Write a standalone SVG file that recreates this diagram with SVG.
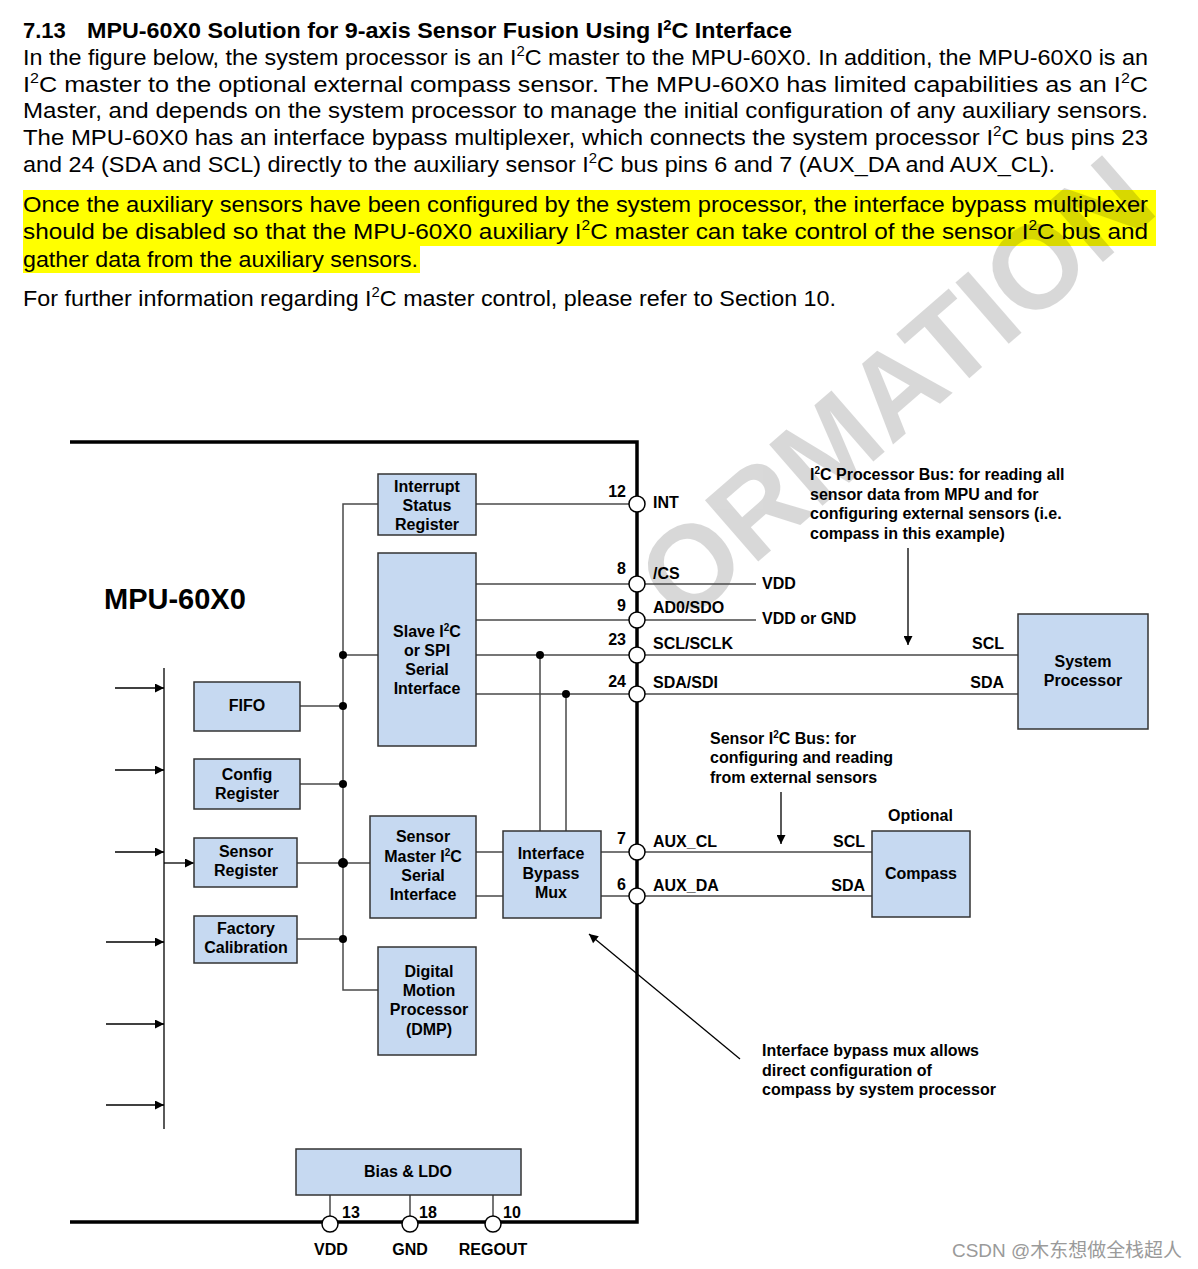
<svg xmlns="http://www.w3.org/2000/svg" width="1198" height="1269" viewBox="0 0 1198 1269">
<defs>
<style>
.body{font-family:"Liberation Sans",Arial,sans-serif;font-size:22px;fill:#000}
.title{font-family:"Liberation Sans",Arial,sans-serif;font-size:22px;font-weight:bold;fill:#000}
.lbl{font-family:"Liberation Sans",Arial,sans-serif;font-size:16px;font-weight:bold;fill:#000}
.big{font-family:"Liberation Sans",Arial,sans-serif;font-size:29px;font-weight:bold;fill:#000}
.c{text-anchor:middle}
.e{text-anchor:end}
.box{fill:#c6d9f1;stroke:#333;stroke-width:1.5}
.wire{stroke:#4a4a4a;stroke-width:1.5;fill:none}
.thin{stroke:#000;stroke-width:1.3;fill:none}
.pin{fill:#fff;stroke:#000;stroke-width:1.5}
.dot{fill:#000}
.border{stroke:#000;stroke-width:3.5;fill:none}
.wm{font-family:"Liberation Sans",Arial,sans-serif;font-size:118px;font-weight:bold;fill:#000}
.csdn{font-family:"Liberation Sans","Noto Sans CJK SC",sans-serif;font-size:19px;fill:#9a9a9a}
</style>
<marker id="ah" viewBox="0 0 10 10" refX="10" refY="5" markerWidth="11" markerHeight="9" markerUnits="userSpaceOnUse" orient="auto">
<path d="M0,0 L10,5 L0,10 z" fill="#000"/>
</marker>
<clipPath id="wmclip">
<path clip-rule="evenodd" d="M0,0 H1198 V1269 H0 Z M0,441 H637 V1222 H0 Z"/>
</clipPath>
</defs>
<rect width="1198" height="1269" fill="#fff"/>

<g id="highlight">
<rect x="23" y="190" width="1133" height="56" fill="#ffff00"/>
<rect x="23" y="246" width="397" height="27" fill="#ffff00"/>
</g>

<g id="watermark" clip-path="url(#wmclip)" opacity="0.15">
<text class="wm" transform="translate(683,627) rotate(-41)">ORMATION</text>
</g>

<g id="header-text">
<text class="title" x="23" y="38">7.13</text>
<text class="title" x="87" y="38" textLength="705" lengthAdjust="spacingAndGlyphs">MPU-60X0 Solution for 9-axis Sensor Fusion Using I<tspan dy="-8" font-size="14">2</tspan><tspan dy="8">C Interface</tspan></text>
<text class="body" x="23" y="65" textLength="1125" lengthAdjust="spacingAndGlyphs">In the figure below, the system processor is an I<tspan dy="-9" font-size="14">2</tspan><tspan dy="9">C master to the MPU-60X0. In addition, the MPU-60X0 is an</tspan></text>
<text class="body" x="23" y="92" textLength="1125" lengthAdjust="spacingAndGlyphs">I<tspan dy="-9" font-size="14">2</tspan><tspan dy="9">C master to the optional external compass sensor. The MPU-60X0 has limited capabilities as an I</tspan><tspan dy="-9" font-size="14">2</tspan><tspan dy="9">C</tspan></text>
<text class="body" x="23" y="118" textLength="1125" lengthAdjust="spacingAndGlyphs">Master, and depends on the system processor to manage the initial configuration of any auxiliary sensors.</text>
<text class="body" x="23" y="145" textLength="1125" lengthAdjust="spacingAndGlyphs">The MPU-60X0 has an interface bypass multiplexer, which connects the system processor I<tspan dy="-9" font-size="14">2</tspan><tspan dy="9">C bus pins 23</tspan></text>
<text class="body" x="23" y="172" textLength="1032" lengthAdjust="spacingAndGlyphs">and 24 (SDA and SCL) directly to the auxiliary sensor I<tspan dy="-9" font-size="14">2</tspan><tspan dy="9">C bus pins 6 and 7 (AUX_DA and AUX_CL).</tspan></text>
<text class="body" x="23" y="212" textLength="1125" lengthAdjust="spacingAndGlyphs">Once the auxiliary sensors have been configured by the system processor, the interface bypass multiplexer</text>
<text class="body" x="23" y="239" textLength="1125" lengthAdjust="spacingAndGlyphs">should be disabled so that the MPU-60X0 auxiliary I<tspan dy="-9" font-size="14">2</tspan><tspan dy="9">C master can take control of the sensor I</tspan><tspan dy="-9" font-size="14">2</tspan><tspan dy="9">C bus and</tspan></text>
<text class="body" x="23" y="267" textLength="395" lengthAdjust="spacingAndGlyphs">gather data from the auxiliary sensors.</text>
<text class="body" x="23" y="306" textLength="813" lengthAdjust="spacingAndGlyphs">For further information regarding I<tspan dy="-9" font-size="14">2</tspan><tspan dy="9">C master control, please refer to Section 10.</tspan></text>
</g>

<g id="connectors">
<path class="border" d="M70,442 H637 V1222 H70"/>
<path class="wire" d="M378,504 H343 V990 H378"/>
<path class="wire" d="M476,504 H629"/>
<path class="wire" d="M343,655 H378"/>
<path class="wire" d="M476,584 H629 M476,620 H629 M476,655 H629 M476,694 H629"/>
<path class="wire" d="M645,584 H756 M645,620 H756"/>
<path class="wire" d="M645,655 H1018 M645,694 H1018"/>
<path class="wire" d="M300,706 H343 M300,784 H343 M297,863 H370 M297,939 H343"/>
<path class="wire" d="M540,655 V831 M566,694 V831"/>
<path class="wire" d="M476,852 H503 M476,896 H503"/>
<path class="wire" d="M601,852 H629 M601,896 H629"/>
<path class="wire" d="M645,852 H872 M645,896 H872"/>
<path class="thin" d="M164,668 V1129"/>
<path class="thin" marker-end="url(#ah)" d="M115,688 H164"/>
<path class="thin" marker-end="url(#ah)" d="M115,770 H164"/>
<path class="thin" marker-end="url(#ah)" d="M115,852 H164"/>
<path class="thin" marker-end="url(#ah)" d="M106,942 H164"/>
<path class="thin" marker-end="url(#ah)" d="M106,1024 H164"/>
<path class="thin" marker-end="url(#ah)" d="M106,1105 H164"/>
<path class="thin" marker-end="url(#ah)" d="M164,863 H194"/>
<path class="wire" d="M330,1195 V1216 M410,1195 V1216 M493,1195 V1216"/>
<path class="thin" marker-end="url(#ah)" d="M908,548 V645"/>
<path class="thin" marker-end="url(#ah)" d="M781,792 V844"/>
<path class="thin" marker-end="url(#ah)" d="M740,1059 L589,934"/>
<circle class="dot" cx="343" cy="655" r="4"/>
<circle class="dot" cx="343" cy="706" r="4"/>
<circle class="dot" cx="343" cy="784" r="4"/>
<circle class="dot" cx="343" cy="863" r="5"/>
<circle class="dot" cx="343" cy="939" r="4"/>
<circle class="dot" cx="540" cy="655" r="4"/>
<circle class="dot" cx="566" cy="694" r="4"/>
</g>

<g id="pins">
<circle class="pin" cx="637" cy="504" r="8"/>
<circle class="pin" cx="637" cy="584" r="8"/>
<circle class="pin" cx="637" cy="620" r="8"/>
<circle class="pin" cx="637" cy="655" r="8"/>
<circle class="pin" cx="637" cy="694" r="8"/>
<circle class="pin" cx="637" cy="852" r="8"/>
<circle class="pin" cx="637" cy="896" r="8"/>
<circle class="pin" cx="330" cy="1224" r="8"/>
<circle class="pin" cx="410" cy="1224" r="8"/>
<circle class="pin" cx="493" cy="1224" r="8"/>
<text class="lbl e" x="626" y="497">12</text>
<text class="lbl e" x="626" y="574">8</text>
<text class="lbl e" x="626" y="611">9</text>
<text class="lbl e" x="626" y="645">23</text>
<text class="lbl e" x="626" y="687">24</text>
<text class="lbl e" x="626" y="844">7</text>
<text class="lbl e" x="626" y="890">6</text>
<text class="lbl" x="653" y="508">INT</text>
<text class="lbl" x="653" y="579">/CS</text>
<text class="lbl" x="653" y="613">AD0/SDO</text>
<text class="lbl" x="653" y="649">SCL/SCLK</text>
<text class="lbl" x="653" y="688">SDA/SDI</text>
<text class="lbl" x="653" y="847">AUX_CL</text>
<text class="lbl" x="653" y="891">AUX_DA</text>
<text class="lbl" x="762" y="589">VDD</text>
<text class="lbl" x="762" y="624">VDD or GND</text>
<text class="lbl e" x="1004" y="649">SCL</text>
<text class="lbl e" x="1004" y="688">SDA</text>
<text class="lbl e" x="865" y="847">SCL</text>
<text class="lbl e" x="865" y="891">SDA</text>
<text class="lbl" x="342" y="1218">13</text>
<text class="lbl" x="419" y="1218">18</text>
<text class="lbl" x="503" y="1218">10</text>
<text class="lbl c" x="331" y="1255">VDD</text>
<text class="lbl c" x="410" y="1255">GND</text>
<text class="lbl c" x="493" y="1255">REGOUT</text>
</g>

<g id="mpu-label"><text class="big" x="104" y="609">MPU-60X0</text></g>

<g id="interrupt-status-register">
<rect class="box" x="378" y="474" width="98" height="61"/>
<text class="lbl c" x="427" y="492">Interrupt</text>
<text class="lbl c" x="427" y="511">Status</text>
<text class="lbl c" x="427" y="530">Register</text>
</g>
<g id="slave-interface">
<rect class="box" x="378" y="553" width="98" height="193"/>
<text class="lbl c" x="427" y="637">Slave I<tspan dy="-6" font-size="10">2</tspan><tspan dy="6">C</tspan></text>
<text class="lbl c" x="427" y="656">or SPI</text>
<text class="lbl c" x="427" y="675">Serial</text>
<text class="lbl c" x="427" y="694">Interface</text>
</g>
<g id="fifo">
<rect class="box" x="194" y="682" width="106" height="49"/>
<text class="lbl c" x="247" y="711">FIFO</text>
</g>
<g id="config-register">
<rect class="box" x="194" y="759" width="106" height="50"/>
<text class="lbl c" x="247" y="780">Config</text>
<text class="lbl c" x="247" y="799">Register</text>
</g>
<g id="sensor-register">
<rect class="box" x="194" y="838" width="103" height="49"/>
<text class="lbl c" x="246" y="857">Sensor</text>
<text class="lbl c" x="246" y="876">Register</text>
</g>
<g id="factory-calibration">
<rect class="box" x="194" y="916" width="103" height="47"/>
<text class="lbl c" x="246" y="934">Factory</text>
<text class="lbl c" x="246" y="953">Calibration</text>
</g>
<g id="sensor-master">
<rect class="box" x="370" y="816" width="106" height="102"/>
<text class="lbl c" x="423" y="842">Sensor</text>
<text class="lbl c" x="423" y="862">Master I<tspan dy="-6" font-size="10">2</tspan><tspan dy="6">C</tspan></text>
<text class="lbl c" x="423" y="881">Serial</text>
<text class="lbl c" x="423" y="900">Interface</text>
</g>
<g id="bypass-mux">
<rect class="box" x="503" y="831" width="98" height="87"/>
<text class="lbl c" x="551" y="859">Interface</text>
<text class="lbl c" x="551" y="879">Bypass</text>
<text class="lbl c" x="551" y="898">Mux</text>
</g>
<g id="dmp">
<rect class="box" x="378" y="947" width="98" height="108"/>
<text class="lbl c" x="429" y="977">Digital</text>
<text class="lbl c" x="429" y="996">Motion</text>
<text class="lbl c" x="429" y="1015">Processor</text>
<text class="lbl c" x="429" y="1035">(DMP)</text>
</g>
<g id="bias-ldo">
<rect class="box" x="296" y="1149" width="225" height="46"/>
<text class="lbl c" x="408" y="1177">Bias &amp; LDO</text>
</g>
<g id="system-processor">
<rect class="box" x="1018" y="614" width="130" height="115"/>
<text class="lbl c" x="1083" y="667">System</text>
<text class="lbl c" x="1083" y="686">Processor</text>
</g>
<g id="compass">
<rect class="box" x="872" y="831" width="98" height="86"/>
<text class="lbl c" x="921" y="879">Compass</text>
<text class="lbl" x="888" y="821">Optional</text>
</g>

<g id="annotations">
<text class="lbl" x="810" y="480">I<tspan dy="-6" font-size="10">2</tspan><tspan dy="6">C Processor Bus: for reading all</tspan></text>
<text class="lbl" x="810" y="500">sensor data from MPU and for</text>
<text class="lbl" x="810" y="519">configuring external sensors (i.e.</text>
<text class="lbl" x="810" y="539">compass in this example)</text>
<text class="lbl" x="710" y="744">Sensor I<tspan dy="-6" font-size="10">2</tspan><tspan dy="6">C Bus: for</tspan></text>
<text class="lbl" x="710" y="763">configuring and reading</text>
<text class="lbl" x="710" y="783">from external sensors</text>
<text class="lbl" x="762" y="1056">Interface bypass mux allows</text>
<text class="lbl" x="762" y="1076">direct configuration of</text>
<text class="lbl" x="762" y="1095">compass by system processor</text>
</g>

<text class="csdn" x="952" y="1257" textLength="230" lengthAdjust="spacingAndGlyphs">CSDN @木东想做全栈超人</text>
</svg>
